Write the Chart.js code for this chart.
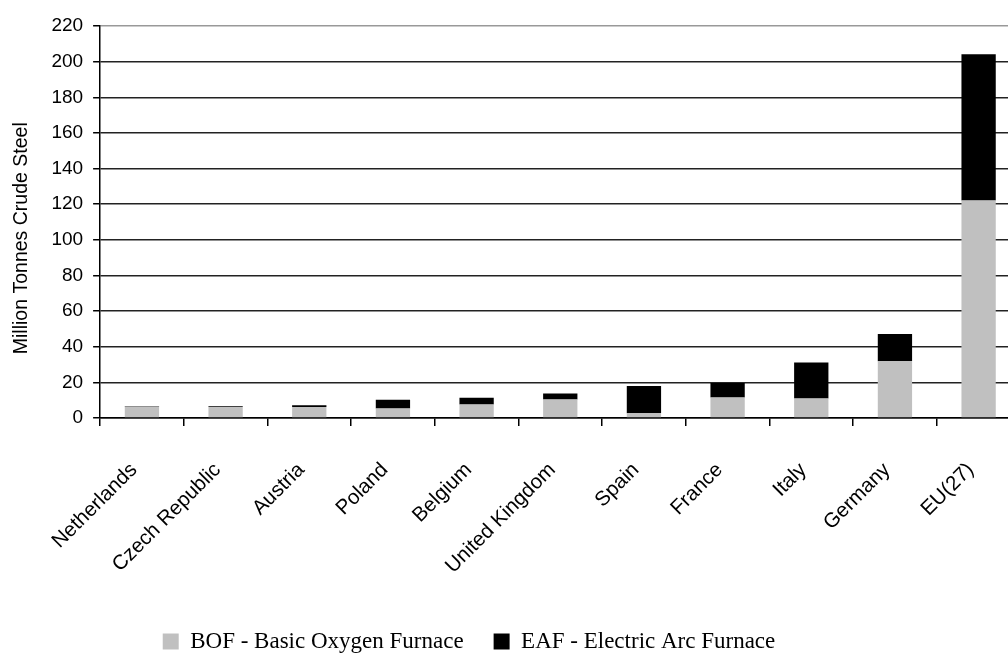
<!DOCTYPE html>
<html>
<head>
<meta charset="utf-8">
<title>Crude steel production by process</title>
<script src="https://cdn.jsdelivr.net/npm/chart.js@4/dist/chart.umd.min.js"></script>
<style>
    html, body { margin: 0; padding: 0; background: #fff; }
    .chart-wrap { width: 1008px; height: 654px; overflow: hidden; }
    canvas { display: block; }
</style>
</head>
<body>
<div class="chart-wrap">
    <canvas id="steelChart" width="1028" height="654"></canvas>
</div>
<script>
// Data (million tonnes)
const countries = ['Netherlands', 'Czech Republic', 'Austria', 'Poland', 'Belgium',
    'United Kingdom', 'Spain', 'France', 'Italy', 'Germany', 'EU(27)'];
const bofValues = [6.3, 6.2, 6.2, 5.4, 7.6, 10.4, 2.7, 11.5, 11.0, 31.8, 122.1];
const eafValues = [0.3, 0.4, 0.9, 4.9, 3.8, 3.3, 15.2, 8.1, 20.2, 15.3, 82.1];
const seriesNames = ['BOF - Basic Oxygen Furnace', 'EAF - Electric Arc Furnace'];
const yMax = 220;
const yStep = 20;

document.addEventListener('DOMContentLoaded', function() {
    const ctx = document.getElementById('steelChart').getContext('2d');
    const sansFont = "'Liberation Sans', Arial, sans-serif";
    const serifFont = "'Liberation Serif', 'Times New Roman', serif";

    // Move the legend a bit left and down, like the original layout
    const legendShift = {
        id: 'legendShift',
        afterLayout(chart) {
            const legend = chart.legend;
            if (!legend) return;
            legend.right -= 96;
            legend.top += 9;
            legend.bottom += 9;
        }
    };

    new Chart(ctx, {
        type: 'bar',
        data: {
            labels: countries,
            datasets: [
                {
                    label: seriesNames[0],
                    data: bofValues,
                    backgroundColor: '#c0c0c0',
                    borderWidth: 0
                },
                {
                    label: seriesNames[1],
                    data: eafValues,
                    backgroundColor: '#000000',
                    borderWidth: 0
                }
            ]
        },
        options: {
            responsive: false,
            animation: false,
            layout: {
                padding: { top: 26, left: 6, right: 0, bottom: 0 }
            },
            datasets: {
                bar: {
                    categoryPercentage: 0.41,
                    barPercentage: 1
                }
            },
            plugins: {
                tooltip: { enabled: false },
                legend: {
                    position: 'bottom',
                    labels: {
                        color: '#000',
                        boxWidth: 16,
                        boxHeight: 16,
                        padding: 30,
                        font: { family: serifFont, size: 23 }
                    }
                }
            },
            scales: {
                x: {
                    stacked: true,
                    offset: true,
                    afterFit: function(scale) {
                        scale.height = 173;
                    },
                    grid: {
                        offset: true,
                        drawOnChartArea: false,
                        color: '#000',
                        lineWidth: 1.5,
                        tickLength: 8
                    },
                    border: { color: '#000', width: 1.5 },
                    ticks: {
                        color: '#000',
                        minRotation: 45,
                        maxRotation: 45,
                        padding: 32,
                        labelOffset: -8,
                        font: { family: sansFont, size: 20.5 }
                    }
                },
                y: {
                    stacked: true,
                    min: 0,
                    max: yMax,
                    grid: {
                        color: function(c) {
                            return c.tick && c.tick.value === yMax ? '#999' : '#222';
                        },
                        lineWidth: 1.5,
                        tickLength: 7,
                        tickColor: '#000'
                    },
                    border: { color: '#000', width: 1.5 },
                    ticks: {
                        stepSize: yStep,
                        color: '#000',
                        padding: 10,
                        font: { family: sansFont, size: 19 }
                    },
                    title: {
                        display: true,
                        // trailing spaces push the visible text a little lower
                        text: 'Million Tonnes Crude Steel      ',
                        color: '#000',
                        padding: { top: 4, bottom: 8 },
                        font: { family: sansFont, size: 19.5 }
                    }
                }
            }
        },
        plugins: [legendShift]
    });
});
</script>
</body>
</html>
